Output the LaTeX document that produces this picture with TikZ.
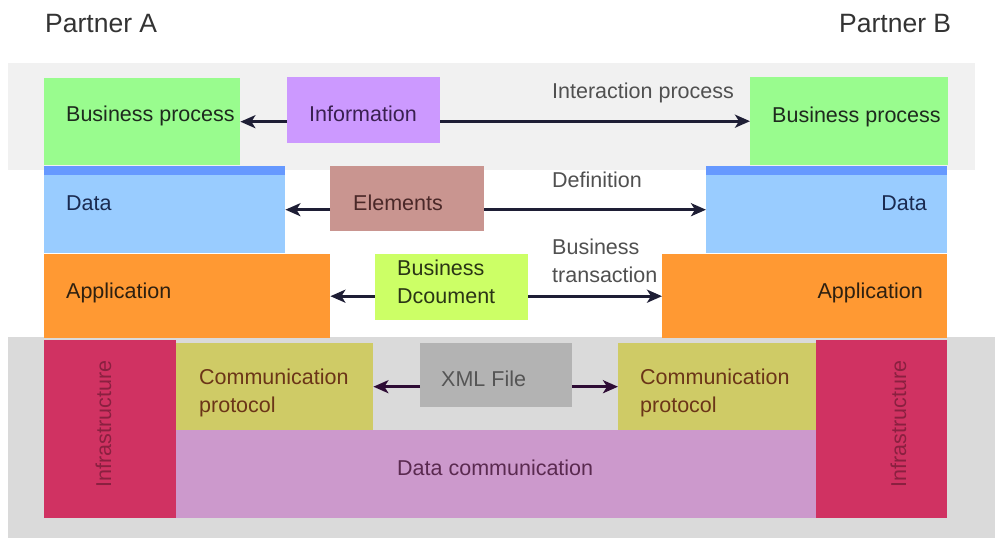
\documentclass[tikz,border=0pt]{standalone}
\usepackage{fontspec}
\setmainfont{Liberation Sans}
\usetikzlibrary{arrows.meta}
\definecolor{bandtop}{HTML}{F1F1F1}
\definecolor{bandbot}{HTML}{DADADA}
\definecolor{cgreen}{HTML}{99FC8E}
\definecolor{cinfo}{HTML}{CC99FF}
\definecolor{cdata}{HTML}{99CCFF}
\definecolor{cstrip}{HTML}{6699FF}
\definecolor{celem}{HTML}{C99590}
\definecolor{capp}{HTML}{FF9933}
\definecolor{cdoc}{HTML}{CCFF66}
\definecolor{cinfra}{HTML}{D03262}
\definecolor{ccomm}{HTML}{CFCB66}
\definecolor{cxml}{HTML}{B3B3B3}
\definecolor{cdcom}{HTML}{CC99CC}
\definecolor{carrow}{HTML}{1E1E35}
\definecolor{carrowp}{HTML}{2E0C35}
\definecolor{tbp}{HTML}{1E2A1E}
\definecolor{tinf}{HTML}{3A2050}
\definecolor{tdat}{HTML}{1A2A50}
\definecolor{tele}{HTML}{4A2828}
\definecolor{tapp}{HTML}{2E2010}
\definecolor{tdoc}{HTML}{2A3515}
\definecolor{tgry}{HTML}{505050}
\definecolor{tinfra}{HTML}{8A2040}
\definecolor{tcom}{HTML}{6B3518}
\definecolor{txml}{HTML}{555555}
\definecolor{tdcom}{HTML}{5A2A50}
\begin{document}
\begin{tikzpicture}[x=1pt,y=-1pt,
  block/.style={fill=#1, draw=none, inner sep=0pt, anchor=north west},
  lbl/.style={inner sep=0pt, anchor=base west, font=\fontsize{21.5}{28}\selectfont, align=left},
  plbl/.style={inner sep=0pt, anchor=base west, font=\fontsize{26.5}{30}\selectfont, text=black!80},
  arr/.style={draw=carrow, line width=2.8pt, -{Stealth[length=15pt,width=13pt,inset=4pt]}},
  arrp/.style={draw=carrowp, line width=2.8pt, -{Stealth[length=15pt,width=13pt,inset=4pt]}}]
\useasboundingbox (0,0) rectangle (995,538);
\fill[white] (0,0) rectangle (995,538);
% bands
\fill[bandtop] (8,63) rectangle (975,170);
\fill[bandbot] (8,337) rectangle (995,538);
% row 1
\node[block=cgreen, minimum width=196pt, minimum height=87pt] (bpl) at (44,78) {};
\node[block=cinfo, minimum width=153pt, minimum height=66pt] (info) at (287,77) {};
\node[block=cgreen, minimum width=198pt, minimum height=88pt] (bpr) at (750,77) {};
% row 2
\node[block=cdata, minimum width=241pt, minimum height=87pt] (datal) at (44,166) {};
\node[block=cdata, minimum width=241pt, minimum height=87pt] (datar) at (706,166) {};
\fill[cstrip] (datal.north west) rectangle ([yshift=-9pt]datal.north east);
\fill[cstrip] (datar.north west) rectangle ([yshift=-9pt]datar.north east);
\node[block=celem, minimum width=154pt, minimum height=65pt] (elem) at (330,166) {};
% row 3
\node[block=capp, minimum width=286pt, minimum height=84pt] (appl) at (44,254) {};
\node[block=capp, minimum width=285pt, minimum height=84pt] (appr) at (662,254) {};
\node[block=cdoc, minimum width=153pt, minimum height=66pt] (doc) at (375,254) {};
% bottom
\node[block=cinfra, minimum width=132pt, minimum height=178pt] (infl) at (44,340) {};
\node[block=cinfra, minimum width=131pt, minimum height=178pt] (infr) at (816,340) {};
\node[block=ccomm, minimum width=197pt, minimum height=87pt] (coml) at (176,343) {};
\node[block=ccomm, minimum width=198pt, minimum height=87pt] (comr) at (618,343) {};
\node[block=cxml, minimum width=152pt, minimum height=64pt] (xml) at (420,343) {};
\node[block=cdcom, minimum width=640pt, minimum height=88pt] (dcom) at (176,430) {};
% labels
\node[plbl] (pa) at (45,32) {Partner A};
\node[plbl] (pb) at (839,32) {Partner B};
\node[lbl, text=tbp] (tbpl) at (66,121) {Business process};
\node[lbl, text=tbp] (tbpr) at (772,122) {Business process};
\node[lbl, text=tinf] (tinfo) at (309,121) {Information};
\node[lbl, text=tgry] (tinter) at (552,98) {Interaction process};
\node[lbl, text=tdat] (tdatal) at (66,210) {Data};
\node[lbl, text=tdat, anchor=base east] (tdatar) at (927,210) {Data};
\node[lbl, text=tele] (telem) at (353,210) {Elements};
\node[lbl, text=tgry] (tdef) at (552,187) {Definition};
\node[lbl, text=tapp] (tappl) at (66,298) {Application};
\node[lbl, text=tapp, anchor=base east] (tappr) at (923,298) {Application};
\node[lbl, text=tdoc] (tdoc) at (397,303) {Business\\Dcoument};
\node[lbl, text=tgry] (ttrans) at (552,282) {Business\\transaction};
\node[lbl, text=tinfra, rotate=90, anchor=base] (tinfl) at (111,424) {Infrastructure};
\node[lbl, text=tinfra, rotate=90, anchor=base] (tinfr) at (906,424) {Infrastructure};
\node[lbl, text=tcom] (tcoml) at (199,412) {Communication\\protocol};
\node[lbl, text=tcom] (tcomr) at (640,412) {Communication\\protocol};
\node[lbl, text=txml] (txml) at (441,386) {XML File};
\node[lbl, text=tdcom] (tdcom) at (397,475) {Data communication};
% connectors
\draw[arr] (info.west |- bpl.east) -- (bpl.east);
\draw[arr] (info.east |- bpr.west) -- (bpr.west);
\draw[arr] (elem.west |- datal.east) -- (datal.east);
\draw[arr] (elem.east |- datar.west) -- (datar.west);
\draw[arr] (doc.west |- appl.east) -- (appl.east);
\draw[arr] (doc.east |- appr.west) -- (appr.west);
\draw[arrp] (xml.west |- coml.east) -- (coml.east);
\draw[arrp] (xml.east |- comr.west) -- (comr.west);
\end{tikzpicture}
\end{document}
